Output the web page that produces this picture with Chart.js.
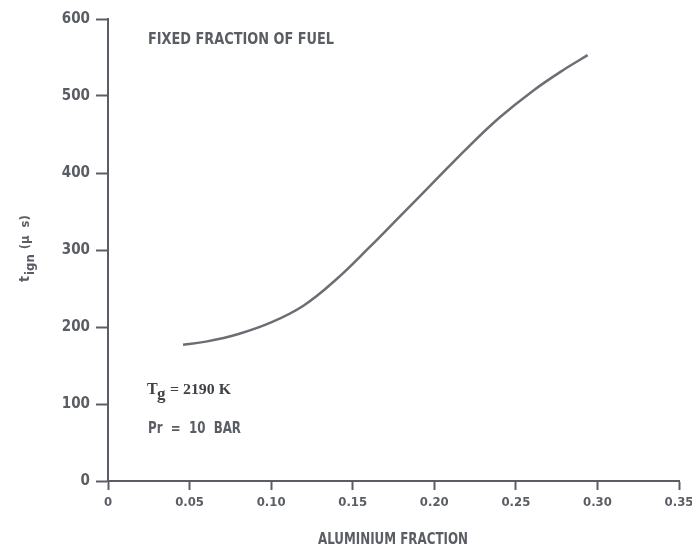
<!DOCTYPE html>
<html>
<head>
<meta charset="utf-8">
<script src="https://cdn.jsdelivr.net/npm/chart.js@4.4.0/dist/chart.umd.min.js"></script>
<style>
  html, body { margin: 0; padding: 0; background: #fff; }
  #wrap { width: 692px; height: 547px; }
</style>
</head>
<body>
<div id="wrap"><canvas id="grafico" width="692" height="547"></canvas></div>
<script>
// ignition delay vs aluminium fraction
const fracAluminio = [0.046, 0.06, 0.08, 0.10, 0.12, 0.14, 0.16, 0.18, 0.20, 0.22, 0.24, 0.26, 0.28, 0.294];
const tIgnicao = [177, 181, 191, 206, 228, 262, 303, 346, 389, 432, 472, 506, 535, 553];
const ticksX = [0, 0.05, 0.10, 0.15, 0.20, 0.25, 0.30, 0.35];
const ticksY = [0, 100, 200, 300, 400, 500, 600];

const corTinta = '#5a5e64';
const fonteTec = '"DejaVu Sans Condensed", "DejaVu Sans", sans-serif';

// escreve o texto esticado/comprimido para ocupar a largura pedida
function textoLargura(ctx, txt, x, y, largura) {
    const w = ctx.measureText(txt).width;
    ctx.save();
    ctx.translate(x, y);
    ctx.scale(largura / w, 1);
    ctx.fillText(txt, 0, 0);
    ctx.restore();
}

const textos = {
    id: 'textos',
    afterDraw(chart) {
        const ctx = chart.ctx;
        ctx.save();
        ctx.fillStyle = corTinta;
        ctx.textBaseline = 'alphabetic';
        ctx.textAlign = 'left';

        ctx.font = 'bold 16px ' + fonteTec;
        textoLargura(ctx, 'FIXED FRACTION OF FUEL', 148, 44, 186);

        ctx.font = 'bold 15px ' + fonteTec;
        textoLargura(ctx, 'ALUMINIUM FRACTION', 318, 544, 150);
        textoLargura(ctx, 'Pr  =  10  BAR', 148, 433, 93);

        // T com subscrito g
        ctx.fillStyle = '#3e4146';
        ctx.font = 'bold 16px "Liberation Serif", serif';
        ctx.fillText('T', 147, 394);
        ctx.font = 'bold 17px "Liberation Serif", serif';
        ctx.fillText('g', 157, 399);
        ctx.font = 'bold 15px "Liberation Serif", serif';
        textoLargura(ctx, '= 2190 K', 170, 394, 61);

        // titulo do eixo y: t_ign (µ s)
        ctx.fillStyle = corTinta;
        ctx.translate(29, 282);
        ctx.rotate(-Math.PI / 2);
        ctx.font = 'bold 14px ' + fonteTec;
        ctx.fillText('t', 0, 0);
        let x = ctx.measureText('t').width + 1;
        ctx.font = 'bold 13px ' + fonteTec;
        ctx.fillText('ign', x, 5);
        x += ctx.measureText('ign').width + 5;
        ctx.font = 'bold 13px ' + fonteTec;
        textoLargura(ctx, '(\u00b5  s)', x, 0, 34);
        ctx.restore();
    }
};

const ctx = document.getElementById('grafico').getContext('2d');
new Chart(ctx, {
    type: 'scatter',
    data: {
        datasets: [{
            data: fracAluminio.map((x, i) => ({ x: x, y: tIgnicao[i] })),
            showLine: true,
            borderColor: '#6b6f75',
            borderWidth: 2.5,
            pointRadius: 0,
            tension: 0.4,
            fill: false
        }]
    },
    options: {
        responsive: false,
        animation: false,
        events: [],
        layout: { padding: { top: 19, right: 13, left: 0, bottom: 0 } },
        plugins: { legend: { display: false }, tooltip: { enabled: false }, title: { display: false } },
        scales: {
            x: {
                type: 'linear',
                min: 0,
                max: 0.35,
                afterBuildTicks: s => { s.ticks = ticksX.map(v => ({ value: v })); },
                afterFit: s => {
                    s.height = 547 - 481;
                    s.paddingLeft = 0;
                    s.paddingRight = 0;
                },
                border: { display: true, color: corTinta, width: 2 },
                grid: { drawOnChartArea: false, drawTicks: true, tickLength: 9, tickWidth: 2, tickColor: corTinta },
                ticks: {
                    color: corTinta,
                    padding: 5,
                    maxRotation: 0,
                    font: { family: fonteTec, size: 13, weight: 'bold' },
                    callback: v => v === 0 ? '0' : v.toFixed(2)
                }
            },
            y: {
                min: 0,
                max: 600,
                afterBuildTicks: s => { s.ticks = ticksY.map(v => ({ value: v })); },
                afterFit: s => {
                    s.width = 108;
                    s.paddingTop = 0;
                    s.paddingBottom = 0;
                },
                border: { display: true, color: corTinta, width: 2 },
                grid: { drawOnChartArea: false, drawTicks: true, tickLength: 12, tickWidth: 2, tickColor: corTinta },
                ticks: {
                    color: corTinta,
                    padding: 6,
                    font: { family: fonteTec, size: 15, weight: 'bold' },
                    callback: v => String(v)
                }
            }
        }
    },
    plugins: [textos]
});
</script>
</body>
</html>
